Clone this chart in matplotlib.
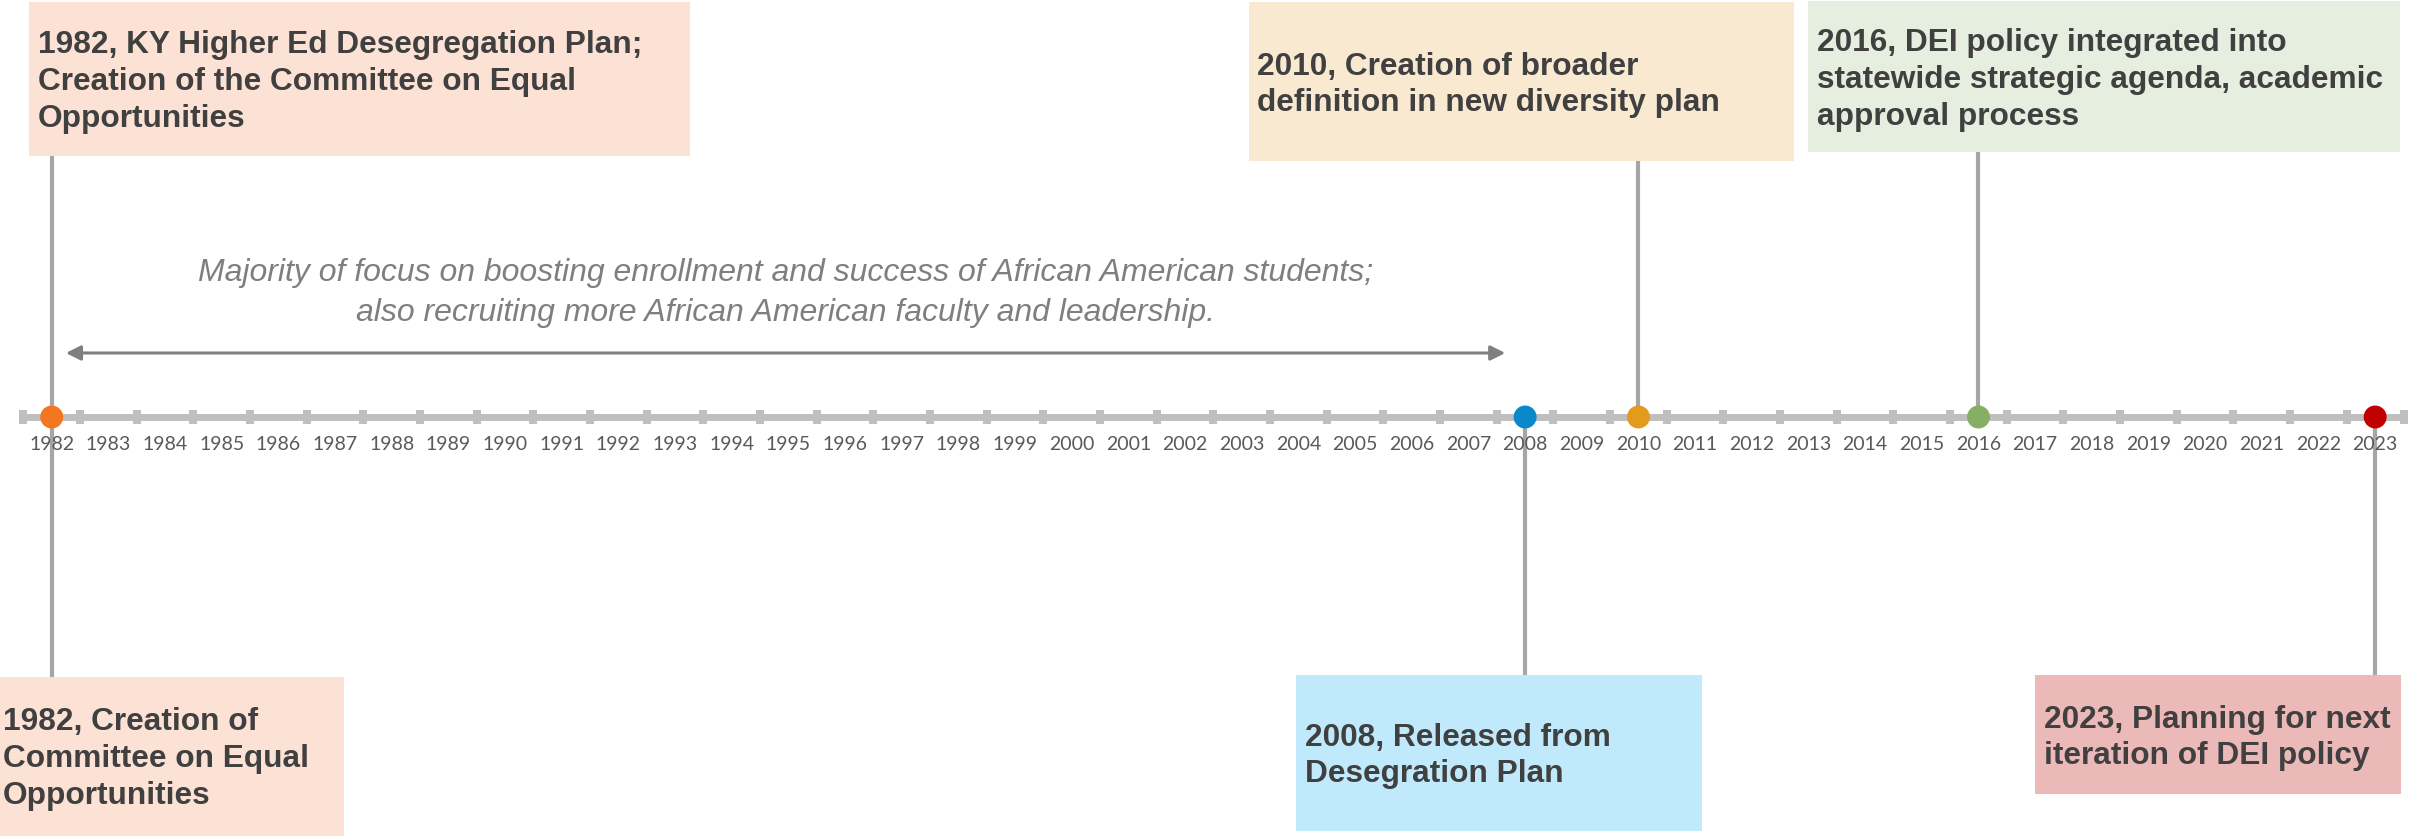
import numpy as np
import matplotlib
matplotlib.use("Agg")
import matplotlib.pyplot as plt
from matplotlib.patches import Rectangle

# ---------------- data ----------------
years = list(range(1982, 2024))
event_years = [1982, 2008, 2010, 2016, 2023]
event_colors = ["#F47621", "#0A88CC", "#E49A1C", "#86AE64", "#C00000"]

# boxes: (year, side, text, fill)
box_years = [1982, 1982, 2008, 2010, 2016, 2023]
box_sides = ["top", "bottom", "bottom", "top", "top", "bottom"]
box_texts = [
    "1982, KY Higher Ed Desegregation Plan;\nCreation of the Committee on Equal\nOpportunities",
    "1982, Creation of\nCommittee on Equal\nOpportunities",
    "2008, Released from\nDesegration Plan",
    "2010, Creation of broader\ndefinition in new diversity plan",
    "2016, DEI policy integrated into\nstatewide strategic agenda, academic\napproval process",
    "2023, Planning for next\niteration of DEI policy",
]
box_fills = ["#FCE1D5", "#FCE1D5", "#C0EAFC", "#FAE9D1", "#E5EEDF", "#ECB9B9"]

span_years = (1982.25, 2007.65)
span_text = ("Majority of focus on boosting enrollment and success of African American students;\n"
             "also recruiting more African American faculty and leadership.")

# ---------------- layout (pixels) ----------------
W, H = 2433, 836
# box rectangles: left, top, right, bottom ; text left, text center y
box_geom = [
    (29, 2, 690, 156, 38, 82),
    (0, 677, 344, 840, 3, 759),
    (1296, 675, 1702, 831, 1305, 756),
    (1249, 2, 1794, 161, 1257, 85),
    (1808, 1, 2400, 152, 1817, 80),
    (2035, 675, 2401, 794, 2044, 738),
]
axis_y = 417
label_y = 444

fig = plt.figure(figsize=(W / 100, H / 100), dpi=100)
fig.patch.set_facecolor("white")

# pixel axes for boxes
axp = fig.add_axes([0, 0, 1, 1])
axp.set_xlim(0, W)
axp.set_ylim(H, 0)
axp.axis("off")

# year axes for timeline
ax = fig.add_axes([0, 0, 1, 1])
px0, px_per_year = 51.7, 56.67
ax.set_xlim(1982 - px0 / px_per_year, 1982 + (W - px0) / px_per_year)
ax.set_ylim(H, 0)
ax.axis("off")
ax.patch.set_alpha(0)

for (l, t, r, b, tx, ty), txt, fc in zip(box_geom, box_texts, box_fills):
    axp.add_patch(Rectangle((l, t), r - l, b - t, facecolor=fc, edgecolor="none", zorder=1))
    axp.text(tx, ty, txt, ha="left", va="center", fontsize=22.8, fontweight="bold",
             family="Liberation Sans", color="#404040", linespacing=1.3, zorder=2)

# connectors
for yr, side, (l, t, r, b, tx, ty) in zip(box_years, box_sides, box_geom):
    if side == "top":
        ax.plot([yr, yr], [b, axis_y], color="#A6A6A6", lw=3, solid_capstyle="butt", zorder=2)
    else:
        ax.plot([yr, yr], [axis_y, t], color="#A6A6A6", lw=3, solid_capstyle="butt", zorder=2)

# main timeline
half = np.arange(years[0] - 0.5, years[-1] + 1.0, 1.0)
ax.plot([half[0], half[-1]], [axis_y, axis_y], color="#BFBFBF", lw=5, solid_capstyle="butt", zorder=3)
rect_marker = [(-0.31, -0.5), (0.31, -0.5), (0.31, 0.5), (-0.31, 0.5), (-0.31, -0.5)]
ax.plot(half, [axis_y] * len(half), linestyle="none", marker=rect_marker, markersize=9.5,
        color="#BFBFBF", markeredgewidth=0, zorder=3)

for yr in years:
    ax.text(yr, label_y, str(yr), ha="center", va="center", fontsize=14,
            family="Lato", color="#595959", zorder=4)

ax.scatter(event_years, [axis_y] * len(event_years), s=16.5 ** 2, c=event_colors,
           edgecolors="none", zorder=5)

# span arrow and note
ax.annotate("", xy=(span_years[1], 353), xytext=(span_years[0], 353),
            arrowprops=dict(arrowstyle="<|-|>", color="#7F7F7F", lw=2.2,
                            mutation_scale=22, shrinkA=0, shrinkB=0), zorder=3)
ax.text(np.mean(span_years), 293, span_text, ha="center", va="center",
        fontsize=23, style="italic", family="Liberation Sans", color="#7F7F7F",
        linespacing=1.43, zorder=3)

fig.savefig("out.png", dpi=100, facecolor="white")
